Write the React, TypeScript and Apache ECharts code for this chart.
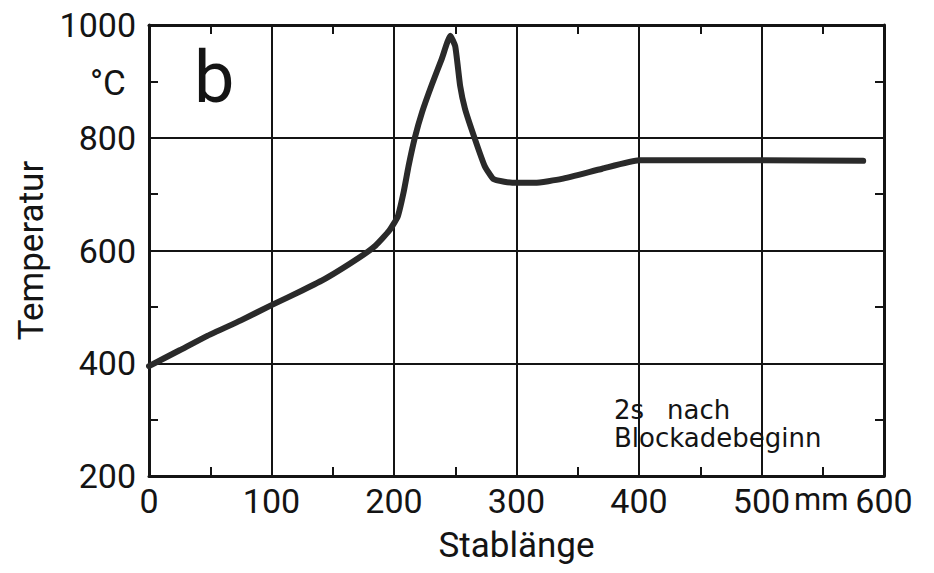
import React, { useEffect, useRef } from "react";
import * as echarts from "echarts";

// Stablänge in mm and the temperature along the rod, 2 s after blockage onset
const stablaenge = [0, 25, 48, 75, 100, 125, 144, 172, 185, 196, 203, 208, 212, 217, 223, 231, 239, 246, 250, 254, 258, 266, 274, 281, 290, 300, 315, 337, 370, 400, 450, 500, 583];
const temperatur = [395, 423, 449, 476, 503, 529, 550, 588, 609, 635, 660, 705, 751, 800, 846, 895, 940, 981, 962, 892, 851, 798, 750, 727, 722, 720, 720, 727, 745, 760, 760, 760, 759];

const xTicks = [0, 100, 200, 300, 400, 500, 600];
const yTicks = [200, 400, 600, 800, 1000];

const INK = "#141414";
const DIGIT_FONT = "Roboto";

export default function App() {
  const ref = useRef<HTMLDivElement>(null);

  useEffect(() => {
    if (!ref.current) return;
    const chart = echarts.init(ref.current, null, { renderer: "svg" });

    const frameAxis = {
      axisLine: { show: true, onZero: false, lineStyle: { color: INK, width: 3 } },
      axisTick: { show: true, inside: true, length: 9, lineStyle: { color: INK, width: 2 } },
      minorTick: { show: true, splitNumber: 2, length: 9, lineStyle: { color: INK, width: 2 } },
    };

    chart.setOption({
      animation: false,
      backgroundColor: "#ffffff",
      grid: { left: 149, right: 50, top: 25, bottom: 97, containLabel: false },
      xAxis: [
        {
          type: "value",
          position: "bottom",
          min: xTicks[0],
          max: xTicks[xTicks.length - 1],
          interval: 100,
          ...frameAxis,
          splitLine: { show: true, lineStyle: { color: INK, width: 2 } },
          axisLabel: {
            show: true,
            margin: 8,
            fontFamily: DIGIT_FONT,
            fontSize: 34,
            color: INK,
            formatter: (v: number) => (xTicks.includes(v) ? String(v) : ""),
          },
          name: "Stablänge",
          nameLocation: "middle",
          nameGap: 52,
          nameTextStyle: { fontFamily: DIGIT_FONT, fontSize: 35, color: INK },
        },
        {
          type: "value",
          position: "top",
          min: xTicks[0],
          max: xTicks[xTicks.length - 1],
          interval: 100,
          ...frameAxis,
          splitLine: { show: false },
          axisLabel: { show: false },
        },
      ],
      yAxis: [
        {
          type: "value",
          position: "left",
          min: yTicks[0],
          max: yTicks[yTicks.length - 1],
          interval: 200,
          ...frameAxis,
          splitLine: { show: true, lineStyle: { color: INK, width: 2 } },
          axisLabel: {
            show: true,
            margin: 13,
            fontFamily: DIGIT_FONT,
            fontSize: 34,
            color: INK,
            formatter: (v: number) => String(v),
          },
          name: "Temperatur",
          nameLocation: "middle",
          nameGap: 100,
          nameRotate: 90,
          nameTextStyle: { fontFamily: DIGIT_FONT, fontSize: 35, color: INK },
        },
        {
          type: "value",
          position: "right",
          min: yTicks[0],
          max: yTicks[yTicks.length - 1],
          interval: 200,
          ...frameAxis,
          splitLine: { show: false },
          axisLabel: { show: false },
        },
      ],
      series: [
        {
          type: "line",
          xAxisIndex: 0,
          yAxisIndex: 0,
          data: stablaenge.map((x, i) => [x, temperatur[i]]),
          symbol: "none",
          smooth: 0.15,
          lineStyle: { color: "#2a2a2a", width: 6, cap: "round", join: "round" },
          z: 5,
        },
      ],
      graphic: [
        {
          type: "text",
          left: 90,
          top: 66,
          style: { text: "°C", fontFamily: DIGIT_FONT, fontSize: 35, fill: INK },
        },
        {
          type: "text",
          left: 194,
          top: 41,
          style: { text: "b", fontFamily: DIGIT_FONT, fontSize: 72, fill: INK },
        },
        {
          type: "text",
          left: 794,
          top: 484,
          style: { text: "mm", fontFamily: DIGIT_FONT, fontSize: 31, fill: INK },
        },
        {
          type: "text",
          left: 614,
          top: 397,
          style: { text: "2s", fontFamily: "DejaVu Sans", fontSize: 26, fill: INK },
        },
        {
          type: "text",
          left: 667,
          top: 397,
          style: { text: "nach", fontFamily: "DejaVu Sans", fontSize: 26, fill: INK },
        },
        {
          type: "text",
          left: 614,
          top: 425,
          style: { text: "Blockadebeginn", fontFamily: "DejaVu Sans", fontSize: 26, fill: INK },
        },
      ],
    });

    return () => chart.dispose();
  }, []);

  return (
    <div
      ref={ref}
      style={{ position: "fixed", left: 0, top: 0, width: 934, height: 573, background: "#fff" }}
    />
  );
}
